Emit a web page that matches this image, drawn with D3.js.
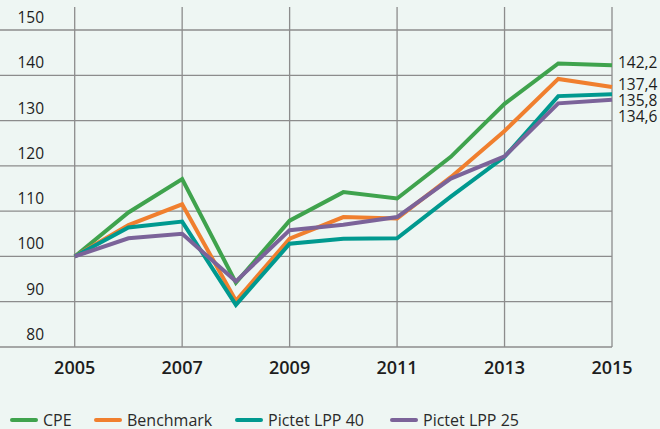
<!DOCTYPE html>
<html>
<head>
<meta charset="utf-8">
<script src="https://cdn.jsdelivr.net/npm/d3@7"></script>
<style>
  html, body { margin: 0; padding: 0; background: #eef6f3; }
  svg { display: block; font-family: "Open Sans", "Noto Sans", sans-serif; }
  .grid line { stroke: #8c8c8c; stroke-width: 1.3; }
  .ylab { font-size: 15.5px; fill: #1d1d1d; }
  .xlab { font-size: 18px; fill: #1d1d1d; font-weight: 600; }
  .endlab { font-size: 15.5px; fill: #1d1d1d; }
  .leg { font-size: 16px; fill: #2a2a2a; }
</style>
</head>
<body>
<svg id="chart" width="660" height="429"></svg>
<script>
// performance index, base 2005 = 100
const years = [2005, 2006, 2007, 2008, 2009, 2010, 2011, 2012, 2013, 2014, 2015];
const cpe = [100, 109.7, 117.1, 94.2, 107.9, 114.2, 112.8, 122.0, 133.7, 142.6, 142.2];
const benchmark = [100, 106.9, 111.5, 90.2, 103.9, 108.7, 108.4, 117.5, 127.7, 139.2, 137.4];
const lpp40 = [100, 106.4, 107.7, 89.3, 102.8, 103.9, 104.0, 113.2, 122.0, 135.4, 135.8];
const lpp25 = [100, 104.0, 105.0, 94.5, 105.8, 107.0, 108.7, 117.2, 122.1, 133.8, 134.6];
const seriesNames = ['CPE', 'Benchmark', 'Pictet LPP 40', 'Pictet LPP 25'];
const endLabels = ['142,2', '137,4', '135,8', '134,6'];
const yTicks = [80, 90, 100, 110, 120, 130, 140, 150];
const xTicks = [2005, 2007, 2009, 2011, 2013, 2015];

const colors = ['#3fa34d', '#f07f2e', '#00998f', '#7b6399'];
const series = [cpe, benchmark, lpp40, lpp25].map((vals, i) => ({
  name: seriesNames[i], color: colors[i], end: endLabels[i],
  values: vals.map((v, j) => ({ year: years[j], v }))
}));

const svg = d3.select('#chart');
const x = d3.scaleLinear().domain([2005, 2015]).range([74.7, 612]);
const y = d3.scaleLinear().domain([80, 150]).range([347, 30]);

// grid
const g = svg.append('g').attr('class', 'grid');
g.selectAll('.h').data(yTicks).join('line')
  .attr('x1', 0).attr('x2', x(2015)).attr('y1', d => y(d)).attr('y2', d => y(d));
g.selectAll('.v').data(xTicks).join('line')
  .attr('x1', d => x(d)).attr('x2', d => x(d)).attr('y1', 7).attr('y2', y(80));

// y labels sit just above their gridline
svg.append('g').selectAll('text').data(yTicks).join('text')
  .attr('class', 'ylab').attr('x', 44).attr('y', d => y(d) - 7)
  .attr('text-anchor', 'end').text(d => d);

svg.append('g').selectAll('text').data(xTicks).join('text')
  .attr('class', 'xlab').attr('x', d => x(d)).attr('y', 374)
  .attr('text-anchor', 'middle').text(d => d);

// lines
const line = d3.line().x(d => x(d.year)).y(d => y(d.v));
svg.append('g').selectAll('path').data(series).join('path')
  .attr('fill', 'none').attr('stroke', s => s.color).attr('stroke-width', 4)
  .attr('stroke-linejoin', 'miter').attr('d', s => line(s.values));

// end labels, pushed apart so they don't collide
let prev = -Infinity;
const ends = series.map(s => {
  let cy = Math.max(y(s.values[s.values.length - 1].v), prev + 16);
  prev = cy;
  return { s, cy };
});
svg.append('g').selectAll('text').data(ends).join('text')
  .attr('class', 'endlab').attr('x', 618).attr('y', d => d.cy + 2.5)
  .text(d => d.s.end);

// legend
const legX = [12, 96, 237, 392];
const lg = svg.append('g').selectAll('g').data(series).join('g')
  .attr('transform', (d, i) => `translate(${legX[i]},420)`);
lg.append('line').attr('x1', 0).attr('x2', 24)
  .attr('stroke', d => d.color).attr('stroke-width', 4).attr('stroke-linecap', 'round');
lg.append('text').attr('class', 'leg').attr('x', 31).attr('y', 5.5).text(d => d.name);
</script>
</body>
</html>
